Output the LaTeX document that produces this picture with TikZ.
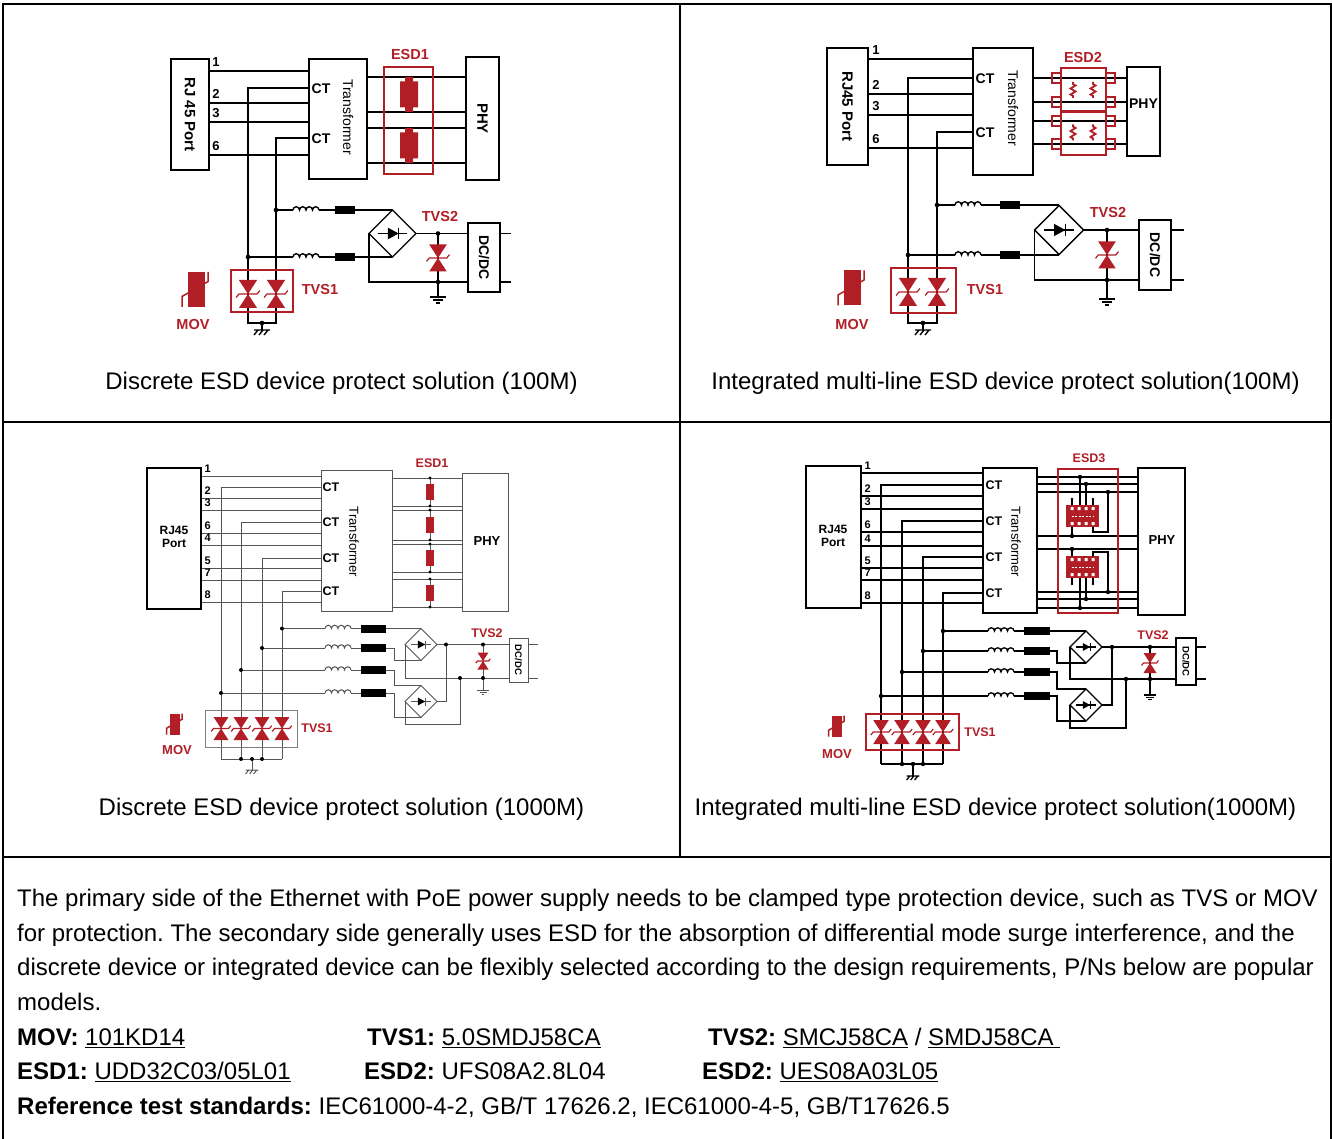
\documentclass[tikz,border=0pt]{standalone}
\usepackage{fontspec}
\setmainfont{Liberation Sans}
\usetikzlibrary{positioning}
\definecolor{esdred}{RGB}{178,30,38}
\definecolor{wiregray}{RGB}{85,85,85}
\frenchspacing

\tikzset{
  blk/.style={draw, inner sep=0pt},
  redbox/.style={draw=esdred, inner sep=0pt},
  frame/.style={line width=1.7pt},
  tag/.style={font=\bfseries\fontsize{13}{13}\selectfont, inner sep=0pt},
  smalltag/.style={font=\bfseries\fontsize{11}{11}\selectfont, inner sep=0pt},
  redtag/.style={tag, font=\bfseries\fontsize{14.5}{14.5}\selectfont, text=esdred},
  capt/.style={font=\fontsize{24}{28}\selectfont, inner sep=0pt, anchor=base},
  para/.style={font=\fontsize{24}{28}\selectfont, inner sep=0pt, anchor=base west},
  coil/.pic={\draw (0,0) \foreach \k in {1,...,4}{arc[start angle=180,end angle=360,radius=3.25]};},
  bead/.pic={\fill (0,-4) rectangle (20,4);},
  bridge/.pic={
    \draw (0,-1) -- (1,0) -- (0,1) -- (-1,0) -- cycle;
    \draw (-0.62,0) -- (0.62,0) (0.26,-0.25) -- (0.26,0.25);
    \fill (-0.2,-0.25) -- (0.26,0) -- (-0.2,0.25) -- cycle;
  },
  tvs/.pic={
    \fill[esdred] (-0.65,-1) -- (0.65,-1) -- (0,0) -- cycle;
    \fill[esdred] (-0.65,1) -- (0.65,1) -- (0,0) -- cycle;
    \draw[esdred, line width=1.2pt] (-0.85,0.25) -- (-0.65,0) -- (0.65,0) -- (0.85,-0.25);
  },
  gnd/.pic={\draw (-8,0) -- (8,0) (-5,3) -- (5,3) (-2,6) -- (2,6);},
  chassis/.pic={\draw (-8,0) -- (8,0) (-4,0) -- (-8,5) (1,0) -- (-3,5) (6,0) -- (2,5);},
  movsym/.pic={
    \draw[esdred, line width=1.5pt] (-14,17.5) -- (-14,7) -- (12,-8) -- (12,-17.5);
    \fill[esdred] (-8.5,-17.5) rectangle (8.5,17.5);
  },
  esdres/.pic={\fill[esdred] (-9,-13) rectangle (9,13) (-4,-17.5) rectangle (4,17.5);},
  zz/.pic={\draw[esdred, line width=1.8pt] (0,-8) -- (0,-6) -- (2.5,-4.5) -- (-2.5,-1.5) -- (2.5,1.5) -- (-2.5,4.5) -- (0,6) -- (0,8);},
  icpkg/.pic={
    \fill[esdred] (-16.5,-11) rectangle (16.5,11);
    \foreach \k in {-12,-5,2,9} \fill[white] (\k,-9) rectangle ++(3,3) (\k,6) rectangle ++(3,3);
    \draw[white, line width=0.8pt, dash pattern=on 2pt off 1.5pt] (-11,0) -- (11,0);
  },
}

\begin{document}
\begin{tikzpicture}[x=1pt, y=-1pt]
\useasboundingbox (0,0) rectangle (1332,1139);

% table
\draw[frame] (3,1139) -- (3,4) -- (1331,4) -- (1331,1139);
\draw[frame] (680,4) -- (680,857);
\draw[frame] (3,422) -- (1331,422);
\draw[frame] (3,857) -- (1331,857);

% ---------- discrete 100M ----------
\begin{scope}[line width=1.4pt]
\node[blk, minimum width=38pt, minimum height=111pt] (rja) at (190,114.5) {};
\node[tag, font=\bfseries\fontsize{15}{15}\selectfont, rotate=-90] (rjat) at (rja) {RJ 45 Port};
\node[blk, minimum width=58pt, minimum height=120pt] (tra) at (338,119) {};
\node[font=\fontsize{14}{14}\selectfont, inner sep=0pt, rotate=-90] (trat) at (348,117) {Transformer};
\node[blk, minimum width=33pt, minimum height=123pt] (phya) at (482.5,118.5) {};
\node[tag, font=\bfseries\fontsize{15}{15}\selectfont, rotate=-90] (phyat) at (phya) {PHY};
\node[blk, minimum width=32pt, minimum height=69pt] (dca) at (484,257.5) {};
\node[tag, font=\bfseries\fontsize{14}{14}\selectfont, rotate=-90] (dcat) at (dca) {DC/DC};

\foreach \p/\y in {1/71,2/103,3/122,6/155} {
  \draw (rja.east |- 0,\y) -- (tra.west |- 0,\y);
  \node[tag] (pa\p) at (216,\y-9) {\p};
}
\draw (tra.west |- 0,88) -- (248,88) -- (248,323) -- (276,323) -- (276,138) -- (tra.west |- 0,138);
\node[tag, font=\bfseries\fontsize{14}{14}\selectfont, anchor=west] (cta1) at (311,89) {CT};
\node[tag, font=\bfseries\fontsize{14}{14}\selectfont, anchor=west] (cta2) at (311,139) {CT};

\foreach \y/\x in {210/276,257/248} {
  \draw (\x,\y) -- (293,\y) (319,\y) -- (335,\y) (355,\y) -- (392,\y);
  \path (293,\y) pic {coil} (335,\y) pic {bead};
}
\path (392.5,233.5) pic[scale=23.5] {bridge};
\draw (369,233.5) -- (369,282) -- (dca.west |- 0,282);
\draw (416,233.5) -- (dca.west |- 0,233.5);
\draw (438,233.5) -- (438,297);
\path (438,258) pic[scale=13.5] {tvs} (438,297) pic {gnd};
\draw (dca.east |- 0,233.5) -- ++(10,0) (dca.east |- 0,282) -- ++(10,0);
\foreach \pt in {{438,233.5},{438,282},{276,210},{248,257},{262,323}} \fill (\pt) circle[radius=2.3];
\node[redtag] (tvs2a) at (440,217) {TVS2};

\foreach \y in {77,112,128,163} \draw (tra.east |- 0,\y) -- (phya.west |- 0,\y);
\node[redbox, minimum width=49pt, minimum height=107pt] (esda) at (408.5,120.5) {};
\path (409,94.5) pic {esdres} (409,145.5) pic {esdres};
\node[redtag] (esdat) at (410,55) {ESD1};

\node[redbox, minimum width=62pt, minimum height=42pt] (tvsa) at (262,291) {};
\path (248,294) pic[scale=14] {tvs} (276,294) pic[scale=14] {tvs};
\node[redtag] (tvs1a) at (320,290) {TVS1};
\draw (262,323) -- (262,330);
\path (262,330) pic {chassis};
\path (196,289.5) pic {movsym};
\node[redtag] (mova) at (193,325) {MOV};
\end{scope}
\node[capt] (capa) at (341.5,389.5) {Discrete ESD device protect solution (100M)};

% ---------- integrated 100M ----------
\begin{scope}[line width=1.4pt]
\node[blk, minimum width=41pt, minimum height=117pt] (rjb) at (847.5,106.5) {};
\node[tag, font=\bfseries\fontsize{15}{15}\selectfont, rotate=-90] (rjbt) at (rjb) {RJ45 Port};
\node[blk, minimum width=60pt, minimum height=127pt] (trb) at (1003,111.5) {};
\node[font=\fontsize{14}{14}\selectfont, inner sep=0pt, rotate=-90] (trbt) at (1013,108) {Transformer};
\node[blk, minimum width=33pt, minimum height=89pt] (phyb) at (1143.5,111.5) {};
\node[tag, font=\bfseries\fontsize{14}{14}\selectfont] (phybt) at (1143.5,104) {PHY};
\node[blk, minimum width=32pt, minimum height=70pt] (dcb) at (1155,255) {};
\node[tag, font=\bfseries\fontsize{14}{14}\selectfont, rotate=-90] (dcbt) at (dcb) {DC/DC};

\foreach \p/\y in {1/59,2/94,3/115,6/148} {
  \draw (rjb.east |- 0,\y) -- (trb.west |- 0,\y);
  \node[tag] (pb\p) at (876,\y-9) {\p};
}
\draw (trb.west |- 0,78) -- (908,78) -- (908,323) -- (937,323) -- (937,132) -- (trb.west |- 0,132);
\node[tag, font=\bfseries\fontsize{14}{14}\selectfont, anchor=west] (ctb1) at (975,79) {CT};
\node[tag, font=\bfseries\fontsize{14}{14}\selectfont, anchor=west] (ctb2) at (975,133) {CT};

\foreach \y/\x in {205/937,255/908} {
  \draw (\x,\y) -- (955,\y) (981,\y) -- (1000,\y) (1020,\y) -- (1059,\y);
  \path (955,\y) pic {coil} (1000,\y) pic {bead};
}
\path (1059,230) pic[scale=24.5] {bridge};
\draw (1034.5,230) -- (1034.5,280) -- (dcb.west |- 0,280);
\draw (1083.5,230) -- (dcb.west |- 0,230);
\draw (1107,230) -- (1107,299);
\path (1107,255) pic[scale=13.5] {tvs} (1107,299) pic {gnd};
\draw (dcb.east |- 0,230) -- ++(12,0) (dcb.east |- 0,280) -- ++(12,0);
\foreach \pt in {{1107,230},{1107,280},{937,205},{908,255},{923,323}} \fill (\pt) circle[radius=2.3];
\node[redtag] (tvs2b) at (1108,213) {TVS2};

\foreach \y in {78,102,121,144} \draw (trb.east |- 0,\y) -- (phyb.west |- 0,\y);
\foreach \t/\a/\b in {68/78/102,112/121/144} {
  \draw[esdred, line width=1.2pt] (1061,\t) rectangle (1106,\t+43);
  \foreach \y in {\a,\b}
    \draw[esdred, line width=1.2pt] (1052,\y-5) rectangle (1061,\y+5) (1106,\y-5) rectangle (1115,\y+5);
  \path (1073,{(\a+\b)/2}) pic {zz} (1093,{(\a+\b)/2}) pic {zz};
}
\node[redtag] (esdbt) at (1083,58) {ESD2};

\node[redbox, minimum width=65pt, minimum height=45pt] (tvsb) at (923.5,290.5) {};
\path (908,292) pic[scale=14] {tvs} (937,292) pic[scale=14] {tvs};
\node[redtag] (tvs1b) at (985,290) {TVS1};
\draw (923,323) -- (923,330);
\path (923,330) pic {chassis};
\path (852,288) pic {movsym};
\node[redtag] (movb) at (852,325) {MOV};
\end{scope}
\node[capt] (capb) at (1005.5,389.5) {Integrated multi-line ESD device protect solution(100M)};

% ---------- discrete 1000M ----------
\begin{scope}[line width=1pt, draw=wiregray]
\node[blk, draw=black, line width=1.4pt, minimum width=54pt, minimum height=141pt] (rjc) at (174,538.5) {};
\node[tag, font=\bfseries\fontsize{12}{13}\selectfont, align=center] (rjct) at (174,537) {RJ45\\Port};
\node[blk, minimum width=71pt, minimum height=141pt] (trc) at (356.5,540.5) {};
\node[font=\fontsize{13}{13}\selectfont, inner sep=0pt, rotate=-90] (trct) at (354,542) {Transformer};
\node[blk, minimum width=46pt, minimum height=138pt] (phyc) at (485,542) {};
\node[tag] (phyct) at (487,541) {PHY};
\node[blk, minimum width=19pt, minimum height=44pt] (dcc) at (518.5,660) {};
\node[tag, font=\bfseries\fontsize{9.5}{10}\selectfont, rotate=-90] (dcct) at (dcc) {DC/DC};

\foreach \p/\y in {1/476,2/498,3/510,6/533,4/545,5/568,7/580,8/602} {
  \draw (rjc.east |- 0,\y) -- (trc.west |- 0,\y);
  \node[smalltag, anchor=west] (pc\p) at (204,\y-7) {\p};
}
\foreach \y/\x [count=\i] in {487/221,522/241,558/262,591/282} {
  \draw (trc.west |- 0,\y) -- (\x,\y) -- (\x,759);
  \node[tag, font=\bfseries\fontsize{12.5}{13}\selectfont, anchor=west] (ctc\i) at (322,\y) {CT};
}
\draw (221,759) -- (282,759);

\foreach \y in {478,506,510,540,544,572,579,607} \draw (trc.east |- 0,\y) -- (phyc.west |- 0,\y);
\foreach \a/\b in {478/506,510/540,544/572,579/607} {
  \draw (430,\a) -- (430,\b);
  \fill[esdred] (426,{(\a+\b)/2-8}) rectangle (434,{(\a+\b)/2+8});
  \fill (430,\a) circle[radius=1.6] (430,\b) circle[radius=1.6];
}
\node[redtag, font=\bfseries\fontsize{12.5}{12.5}\selectfont] (esdct) at (432,463) {ESD1};

\foreach \y/\x in {628.5/282,648/262,670/241,693/221} {
  \draw (\x,\y) -- (325,\y) (351,\y) -- (361,\y);
  \path (325,\y) pic {coil} (361,\y) pic[xscale=1.25] {bead};
  \fill (\x,\y) circle[radius=2];
}
\draw (386,628.5) -- (421,628.5);
\draw (386,648) -- (394,648) -- (394,660.5) -- (421,660.5);
\draw (386,670) -- (394,670) -- (394,685.5) -- (421,685.5);
\draw (386,693) -- (394,693) -- (394,717.5) -- (421,717.5);
\path (421,644.5) pic[scale=16] {bridge} (421,701.5) pic[scale=16] {bridge};
\draw (437,644.5) -- (dcc.west |- 0,644.5);
\draw (437,701.5) -- (446,701.5) -- (446,644.5);
\draw (405,644.5) -- (405,678) -- (dcc.west |- 0,678);
\draw (405,701.5) -- (405,724) -- (460,724) -- (460,678);
\draw (483,644.5) -- (483,690);
\path (483,661) pic[scale=8.5] {tvs} (483,690) pic[scale=0.7] {gnd};
\draw (dcc.east |- 0,644.5) -- ++(9,0) (dcc.east |- 0,678) -- ++(9,0);
\foreach \pt in {{446,644.5},{460,678},{483,644.5},{483,678}} \fill (\pt) circle[radius=2];
\node[redtag, font=\bfseries\fontsize{12.5}{12.5}\selectfont] (tvs2c) at (487,633) {TVS2};

\node[blk, draw=black!50, minimum width=92pt, minimum height=37pt] (tvsc) at (251,728.5) {};
\foreach \x in {221,241,262,282} \path (\x,728.5) pic[scale=11.5] {tvs};
\node[redtag, font=\bfseries\fontsize{12.5}{12.5}\selectfont] (tvs1c) at (317,728) {TVS1};
\draw (252,759) -- (252,770);
\path (252,770) pic[scale=0.8] {chassis};
\foreach \x in {241,252,262} \fill (\x,759) circle[radius=2];
\path (175,724) pic[scale=0.6] {movsym};
\node[redtag, font=\bfseries\fontsize{13}{13}\selectfont] (movc) at (177,750) {MOV};
\end{scope}
\node[capt] (capc) at (341.5,815.5) {Discrete ESD device protect solution (1000M)};

% ---------- integrated 1000M ----------
\begin{scope}[line width=1.3pt]
\node[blk, minimum width=55pt, minimum height=142pt] (rjd) at (833.5,537) {};
\node[tag, font=\bfseries\fontsize{12}{13}\selectfont, align=center] (rjdt) at (833,536) {RJ45\\Port};
\node[blk, minimum width=54pt, minimum height=145pt] (trd) at (1010,540.5) {};
\node[font=\fontsize{13}{13}\selectfont, inner sep=0pt, rotate=-90] (trdt) at (1016,542) {Transformer};
\node[blk, minimum width=47pt, minimum height=147pt] (phyd) at (1161.5,541.5) {};
\node[tag] (phydt) at (1162,540) {PHY};
\node[blk, minimum width=20pt, minimum height=47pt] (dcd) at (1186,661.5) {};
\node[tag, font=\bfseries\fontsize{9.5}{10}\selectfont, rotate=-90] (dcdt) at (dcd) {DC/DC};

\foreach \p/\y in {1/473,2/496,3/509,6/532,4/546,5/568,7/580,8/603} {
  \draw (rjd.east |- 0,\y) -- (trd.west |- 0,\y);
  \node[smalltag, anchor=west] (pd\p) at (864,\y-7.5) {\p};
}
\foreach \y/\x [count=\i] in {485/881,521/902,557/923,593/943} {
  \draw (trd.west |- 0,\y) -- (\x,\y) -- (\x,764);
  \node[tag, font=\bfseries\fontsize{12.5}{13}\selectfont, anchor=west] (ctd\i) at (985,\y) {CT};
}
\draw (881,764) -- (943,764);

\foreach \y in {477,484,492,536,549,592,599,608} \draw (trd.east |- 0,\y) -- (phyd.west |- 0,\y);
\draw (1080,477) -- (1080,505) (1086,484) -- (1086,505) (1108,492) -- (1108,532) -- (1093,532) -- (1093,527) (1072,527) -- (1072,536);
\draw (1072,549) -- (1072,556) (1108,592) -- (1108,552) -- (1093,552) -- (1093,556) (1086,599) -- (1086,578) (1080,608) -- (1080,578);
\draw (1072,505) -- (1072,499) (1093,505) -- (1093,499) (1072,578) -- (1072,584) (1093,578) -- (1093,584);
\path (1082.5,516) pic {icpkg} (1082.5,567) pic {icpkg};
\foreach \pt in {{1080,477},{1086,484},{1108,492},{1072,536},{1072,549},{1108,592},{1086,599},{1080,608}} \fill (\pt) circle[radius=2.2];
\foreach \pt in {{1072,499},{1093,499},{1072,584},{1093,584}} \fill (\pt) circle[radius=1.4];
\node[redbox, line width=1.4pt, minimum width=60pt, minimum height=144pt] (esdd) at (1088,541) {};
\node[redtag, font=\bfseries\fontsize{12.5}{12.5}\selectfont] (esddt) at (1089,458) {ESD3};

\foreach \y/\x in {631/943,651/923,672/902,696/881} {
  \draw (\x,\y) -- (988,\y) (1014,\y) -- (1024,\y);
  \path (988,\y) pic {coil} (1024,\y) pic[xscale=1.3] {bead};
  \fill (\x,\y) circle[radius=2.2];
}
\draw (1050,631) -- (1086,631);
\draw (1050,651) -- (1057,651) -- (1057,663) -- (1086,663);
\draw (1050,672) -- (1057,672) -- (1057,689) -- (1086,689);
\draw (1050,696) -- (1057,696) -- (1057,721) -- (1086,721);
\path (1086,647) pic[scale=16] {bridge} (1086,705) pic[scale=16] {bridge};
\draw (1102,647) -- (dcd.west |- 0,647);
\draw (1102,705) -- (1112,705) -- (1112,647);
\draw (1070,647) -- (1070,679) -- (dcd.west |- 0,679);
\draw (1070,705) -- (1070,728) -- (1126,728) -- (1126,679);
\draw (1150,647) -- (1150,695);
\path (1150,663) pic[scale=10] {tvs} (1150,695) pic[scale=0.8] {gnd};
\draw (dcd.east |- 0,647) -- ++(9,0) (dcd.east |- 0,679) -- ++(9,0);
\foreach \pt in {{1112,647},{1126,679},{1150,647},{1150,679}} \fill (\pt) circle[radius=2.2];
\node[redtag, font=\bfseries\fontsize{12.5}{12.5}\selectfont] (tvs2d) at (1153,635) {TVS2};

\node[redbox, line width=1.4pt, minimum width=93pt, minimum height=36pt] (tvsd) at (912.5,732) {};
\foreach \x in {881,902,923,943} \path (\x,732) pic[scale=12] {tvs};
\node[redtag, font=\bfseries\fontsize{12.5}{12.5}\selectfont] (tvs1d) at (980,732) {TVS1};
\draw (913,764) -- (913,776);
\path (913,776) pic[scale=0.8] {chassis};
\foreach \x in {902,913,923} \fill (\x,764) circle[radius=2.2];
\path (837,726) pic[scale=0.6] {movsym};
\node[redtag, font=\bfseries\fontsize{13}{13}\selectfont] (movd) at (837,754) {MOV};
\end{scope}
\node[capt] (capd) at (995.5,815.5) {Integrated multi-line ESD device protect solution(1000M)};

% notes
\node[para] (txt1) at (17,906.5) {The primary side of the Ethernet with PoE power supply needs to be clamped type protection device, such as TVS or MOV};
\node[para] (txt2) at (17,941.5) {for protection. The secondary side generally uses ESD for the absorption of differential mode surge interference, and the};
\node[para] (txt3) at (17,975.5) {discrete device or integrated device can be flexibly selected according to the design requirements, P/Ns below are popular};
\node[para] (txt4) at (17,1010.5) {models.};
\node[para] (pnmov) at (17,1045.5) {\textbf{MOV:} \underline{101KD14}};
\node[para] (pntvsa) at (367,1045.5) {\textbf{TVS1:} \underline{5.0SMDJ58CA}};
\node[para] (pntvsb) at (708,1045.5) {\textbf{TVS2:} \underline{SMCJ58CA} / \underline{SMDJ58CA\ }};
\node[para] (pnesda) at (17,1079.5) {\textbf{ESD1:} \underline{UDD32C03/05L01}};
\node[para] (pnesdb) at (364,1079.5) {\textbf{ESD2:} UFS08A2.8L04};
\node[para] (pnesdc) at (702,1079.5) {\textbf{ESD2:} \underline{UES08A03L05}};
\node[para] (pnstd) at (17,1114.5) {\textbf{Reference test standards:} IEC61000-4-2, GB/T 17626.2, IEC61000-4-5, GB/T17626.5};
\end{tikzpicture}
\end{document}
